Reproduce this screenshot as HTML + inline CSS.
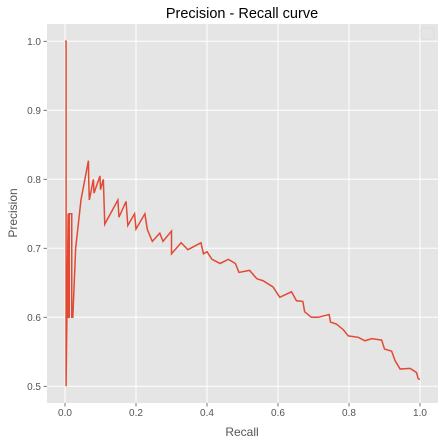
<!DOCTYPE html>
<html><head><meta charset="utf-8"><style>
body{margin:0;background:#fff;}
svg{display:block;font-family:"Liberation Sans",sans-serif;}
</style></head><body>
<svg id="chart" width="445" height="445">
<rect x="0" y="0" width="445" height="445" fill="#fff"/>
<rect x="47" y="24" width="391" height="379" fill="#e5e5e5"/>
<g id="grid"></g><g id="ticks"></g>
<path id="curve" fill="none" stroke="#e24a33" stroke-width="1.5" stroke-linejoin="miter"/>
<rect x="421" y="28" width="13" height="11" rx="2" fill="#e5e5e5" stroke="#d8d8d8" stroke-width="0.8"/>
<text x="242" y="18" text-anchor="middle" font-size="14.5" fill="#000">Precision - Recall curve</text>
<text x="242" y="436" text-anchor="middle" font-size="12" fill="#555">Recall</text>
<text transform="translate(17,213) rotate(-90)" text-anchor="middle" font-size="12" fill="#555">Precision</text>
</svg>
<script>
const xTicks=[0,0.2,0.4,0.6,0.8,1.0];
const yTicks=[0.5,0.6,0.7,0.8,0.9,1.0];
const recall=[0,0.003,0.003,0.009,0.009,0.012,0.012,0.019,0.019,0.022,0.022,0.03,0.045,0.066,0.067,0.0685,0.08,0.0817,0.0986,0.1,0.108,0.112,0.149,0.152,0.172,0.177,0.196,0.2,0.225,0.232,0.246,0.267,0.276,0.3,0.3,0.327,0.346,0.383,0.39,0.4,0.414,0.437,0.46,0.48,0.49,0.52,0.54,0.558,0.586,0.605,0.638,0.652,0.67,0.675,0.694,0.713,0.744,0.748,0.765,0.784,0.798,0.826,0.845,0.864,0.892,0.9,0.92,0.93,0.944,0.972,0.99,0.995,1.0];
const precision=[1.0,1.0,0.5,0.75,0.6,0.6,0.75,0.75,0.6,0.6,0.6,0.7,0.77,0.827,0.794,0.77,0.8,0.78,0.805,0.785,0.8,0.735,0.77,0.745,0.768,0.733,0.75,0.728,0.75,0.727,0.71,0.722,0.71,0.725,0.692,0.708,0.698,0.708,0.692,0.695,0.684,0.678,0.684,0.678,0.665,0.668,0.656,0.653,0.644,0.629,0.637,0.624,0.623,0.608,0.6,0.6,0.604,0.593,0.59,0.582,0.573,0.571,0.566,0.569,0.567,0.554,0.551,0.537,0.525,0.526,0.52,0.511,0.51];
const X=v=>65+v*355, Y=v=>386.3-(v-0.5)*690;
const ns="http://www.w3.org/2000/svg";
const grid=document.getElementById('grid'), ticks=document.getElementById('ticks');
function mk(tag,attrs,parent){const e=document.createElementNS(ns,tag);for(const k in attrs)e.setAttribute(k,attrs[k]);parent.appendChild(e);return e;}
xTicks.forEach(t=>{
 const l=mk('line',{x1:X(t),x2:X(t),y1:24,y2:403,stroke:'#fff','stroke-width':1},grid);
 
 
 const tm=mk('line',{x1:X(t),x2:X(t),y1:403,y2:406.5,stroke:'#555','stroke-width':0.8},ticks);
 
 
 const tx=mk('text',{x:X(t),y:416,'text-anchor':'middle','font-size':10,fill:'#555'},ticks);
 tx.textContent=t.toFixed(1);
 
 
});
yTicks.forEach(t=>{
 const l=mk('line',{x1:47,x2:438,y1:Y(t),y2:Y(t),stroke:'#fff','stroke-width':1},grid);
 
 
 const tm=mk('line',{x1:43.5,x2:47,y1:Y(t),y2:Y(t),stroke:'#555','stroke-width':0.8},ticks);
 
 
 const tx=mk('text',{x:41,y:Y(t)+3.5,'text-anchor':'end','font-size':10,fill:'#555'},ticks);
 tx.textContent=t.toFixed(1);
 
 
});
let d='';recall.forEach((r,i)=>{d+=(i?'L':'M')+X(r).toFixed(2)+','+Y(precision[i]).toFixed(2);});
document.getElementById('curve').setAttribute('d',d);
</script>
</body></html>
